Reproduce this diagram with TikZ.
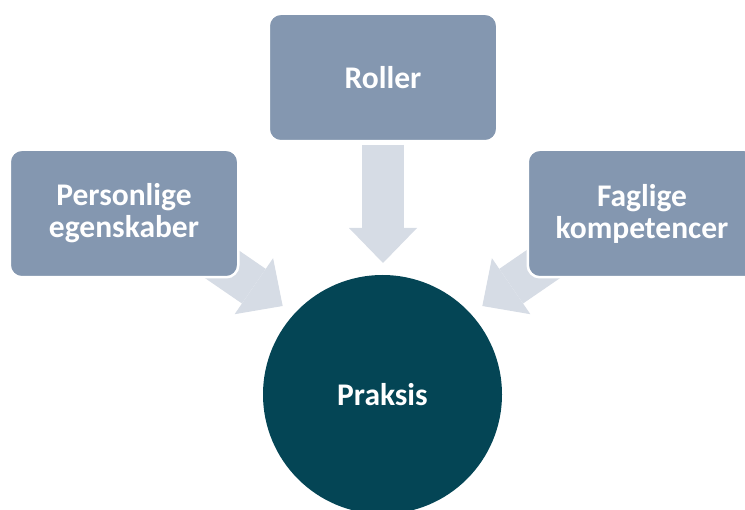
\documentclass[tikz,border=0pt]{standalone}
\usepackage{fontspec}
\setmainfont{Carlito}
\usetikzlibrary{arrows.meta,backgrounds}

\definecolor{boxblue}{HTML}{8497B0}
\definecolor{arrowgray}{HTML}{D6DCE5}
\definecolor{petrol}{HTML}{044555}

\begin{document}
\begin{tikzpicture}[x=1pt, y=-1pt,
  box/.style={rectangle, rounded corners=12pt, fill=boxblue, draw=white,
    line width=2.5pt, minimum width=228.5pt, minimum height=127.5pt,
    text=white, align=center, font=\fontsize{31.5}{32}\selectfont\bfseries},
  flow/.style={arrowgray, line width=42pt,
    -{Triangle[width=68pt, length=35pt, line width=0pt]}}]
  \useasboundingbox (0,0) rectangle (745,510);
  \node[box] (roller) at (383,77.5) {Roller};
  \node[box] (personlige) at (124,213.5) {Personlige\\egenskaber};
  \node[box] (faglige) at (642,213.5) {Faglige\\kompetencer};
  \node[circle, fill=petrol, minimum size=239pt, inner sep=0pt, text=white,
    font=\fontsize{31.5}{32}\selectfont\bfseries] (praksis) at (382.5,394.5) {Praksis};
  % block arrows behind the boxes
  \begin{scope}[on background layer]
    \coordinate (rtail) at (383,145);
    \coordinate (rtip) at (383,263);
    \coordinate (ptail) at (185.4,239.2);
    \coordinate (ptip) at (282.7,306);
    \coordinate (ftail) at (579.6,239.2);
    \coordinate (ftip) at (482.3,306);
    \draw[flow] (rtail) -- (rtip);
    \draw[flow] (ptail) -- (ptip);
    \draw[flow] (ftail) -- (ftip);
  \end{scope}
\end{tikzpicture}
\end{document}
